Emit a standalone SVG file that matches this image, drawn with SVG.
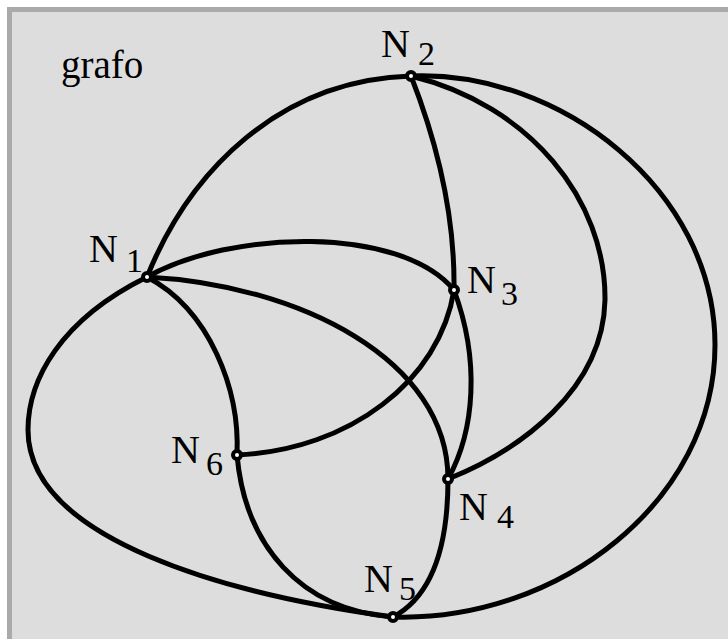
<svg xmlns="http://www.w3.org/2000/svg" width="728" height="639" viewBox="0 0 728 639">
<style>
.edge{fill:none;stroke:#000;stroke-width:5;stroke-linecap:round}
.node{fill:#fff;stroke:#000;stroke-width:4}
.t{font-family:"Liberation Serif","DejaVu Serif","Times New Roman",serif;fill:#000}
</style>
<rect x="0" y="0" width="728" height="639" fill="#fff"/>
<rect x="9.5" y="9.5" width="730" height="640" fill="#ddd" stroke="#aaa" stroke-width="5"/>
<text class="t" x="61" y="78" font-size="39">grafo</text>
<g id="edges">
<path class="edge" d="M147,277 C190,170 280,80 411,76"/>
<path class="edge" d="M411,76 C440,150 455,220 454,290"/>
<path class="edge" d="M411,76 C530,105 606,200 605,300 C603,390 520,450 448,479"/>
<path class="edge" d="M411,76 C560,70 715,190 715,345 C715,500 560,622 393,617"/>
<path class="edge" d="M147,277 C60,320 28,380 28,430 C28,540 230,595 393,617"/>
<path class="edge" d="M147,277 C230,230 400,225 454,290"/>
<path class="edge" d="M147,277 C300,285 448,360 448,479"/>
<path class="edge" d="M147,277 C210,310 240,390 237,455"/>
<path class="edge" d="M237,455 C350,450 440,380 454,290"/>
<path class="edge" d="M454,290 C480,360 475,430 448,479"/>
<path class="edge" d="M237,455 C245,545 300,610 393,617"/>
<path class="edge" d="M448,479 C448,560 425,600 393,617"/>
</g>
<g id="N1"><circle class="node" cx="147" cy="277" r="4"/><text class="t" font-size="40" x="89" y="262">N</text><text class="t" font-size="34" x="126" y="272">1</text></g>
<g id="N2"><circle class="node" cx="411" cy="76" r="4"/><text class="t" font-size="40" x="381" y="57">N</text><text class="t" font-size="34" x="418" y="65">2</text></g>
<g id="N3"><circle class="node" cx="454" cy="290" r="4"/><text class="t" font-size="40" x="467" y="293">N</text><text class="t" font-size="34" x="501" y="305">3</text></g>
<g id="N4"><circle class="node" cx="448" cy="479" r="4"/><text class="t" font-size="40" x="459" y="520">N</text><text class="t" font-size="34" x="497" y="528">4</text></g>
<g id="N5"><circle class="node" cx="393" cy="617" r="4"/><text class="t" font-size="40" x="364" y="592">N</text><text class="t" font-size="34" x="399" y="600">5</text></g>
<g id="N6"><circle class="node" cx="237" cy="455" r="4"/><text class="t" font-size="40" x="171" y="463">N</text><text class="t" font-size="34" x="206" y="475">6</text></g>
</svg>
